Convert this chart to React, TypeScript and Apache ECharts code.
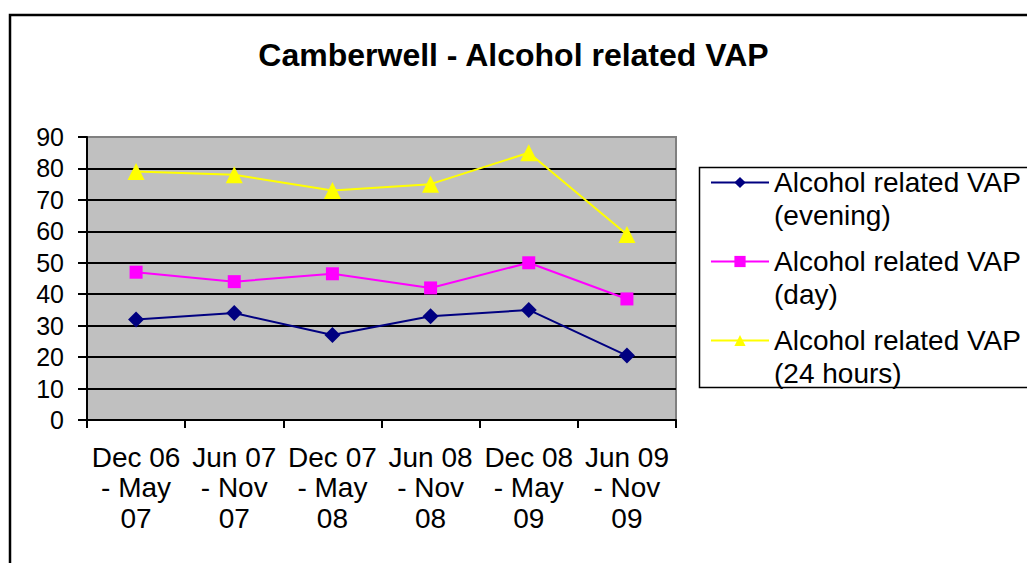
import React, { useEffect, useRef } from "react";
import * as echarts from "echarts";

const categories = [
  "Dec 06\n- May\n07",
  "Jun 07\n- Nov\n07",
  "Dec 07\n- May\n08",
  "Jun 08\n- Nov\n08",
  "Dec 08\n- May\n09",
  "Jun 09\n- Nov\n09",
];
const evening = [32, 34, 27, 33, 35, 20.5];
const day = [47, 44, 46.5, 42, 50, 38.5];
const hours24 = [79, 78, 73, 75, 85, 59];
const seriesNames = [
  "Alcohol related VAP (evening)",
  "Alcohol related VAP (day)",
  "Alcohol related VAP (24 hours)",
];
const titleText = "Camberwell - Alcohol related VAP";

const FONT = "'Liberation Sans', Arial, sans-serif";

export default function App() {
  const ref = useRef<HTMLDivElement>(null);
  useEffect(() => {
    if (!ref.current) return;
    const chart = echarts.init(ref.current, undefined, { renderer: "svg" });
    chart.setOption({
      animation: false,
      backgroundColor: "#ffffff",
      textStyle: { fontFamily: FONT },
      title: {
        text: titleText,
        left: "center",
        top: 39,
        padding: 0,
        textStyle: { fontSize: 32, fontWeight: "bold", color: "#000", fontFamily: FONT },
      },
      graphic: [
        {
          type: "rect",
          z: 0,
          shape: { x: 10, y: 15, width: 1200, height: 800 },
          style: { fill: "none", stroke: "#000", lineWidth: 2.5 },
        },
        {
          type: "rect",
          z: 1,
          shape: { x: 699.5, y: 167.5, width: 500, height: 220 },
          style: { fill: "#fff", stroke: "#000", lineWidth: 1.5 },
        },
      ],
      legend: {
        orient: "vertical",
        left: 710,
        top: 133,
        padding: 0,
        itemWidth: 58,
        itemHeight: 14,
        itemGap: -20,
        z: 5,
        formatter: (name: string) => {
          const i = name.indexOf(" (");
          return "{s| }\n{a|" + name.slice(0, i) + "}\n{a|" + name.slice(i + 1) + "}";
        },
        textStyle: {
          fontSize: 28,
          lineHeight: 33,
          color: "#000",
          fontFamily: FONT,
          rich: {
            s: { fontSize: 28, lineHeight: 33, fontFamily: FONT },
            a: { fontSize: 28, lineHeight: 33, color: "#000", fontFamily: FONT },
          },
        },
        data: seriesNames,
      },
      grid: {
        left: 87,
        top: 137,
        width: 589,
        height: 283,
        show: true,
        backgroundColor: "#C0C0C0",
        borderColor: "#808080",
        borderWidth: 2,
      },
      xAxis: {
        type: "category",
        data: categories,
        boundaryGap: true,
        axisLine: { show: true, lineStyle: { color: "#000", width: 2 } },
        axisTick: { show: true, inside: false, length: 8, lineStyle: { color: "#000", width: 2 } },
        axisLabel: {
          interval: 0,
          margin: 22,
          fontSize: 28,
          lineHeight: 30.5,
          color: "#000",
          fontFamily: FONT,
        },
        splitLine: { show: false },
      },
      yAxis: {
        type: "value",
        min: 0,
        max: 90,
        interval: 10,
        axisLine: { show: true, lineStyle: { color: "#000", width: 2 } },
        axisTick: { show: true, inside: false, length: 9, lineStyle: { color: "#000", width: 2 } },
        axisLabel: { margin: 23, fontSize: 25, color: "#000", fontFamily: FONT },
        splitLine: {
          show: true,
          showMinLine: false,
          showMaxLine: false,
          lineStyle: { color: "#000", width: 2 },
        },
      },
      series: [
        {
          name: seriesNames[0],
          type: "line",
          data: evening,
          symbol: "diamond",
          symbolSize: 16,
          color: "#000080",
          lineStyle: { color: "#000080", width: 2 },
          itemStyle: { color: "#000080" },
        },
        {
          name: seriesNames[1],
          type: "line",
          data: day,
          symbol: "rect",
          symbolSize: 13,
          color: "#FF00FF",
          lineStyle: { color: "#FF00FF", width: 2 },
          itemStyle: { color: "#FF00FF" },
        },
        {
          name: seriesNames[2],
          type: "line",
          data: hours24,
          symbol: "triangle",
          symbolSize: 17,
          color: "#FFFF00",
          lineStyle: { color: "#FFFF00", width: 2 },
          itemStyle: { color: "#FFFF00" },
        },
      ],
    });
    return () => chart.dispose();
  }, []);
  return (
    <div
      ref={ref}
      style={{ position: "absolute", left: 0, top: 0, width: 1027, height: 563 }}
    />
  );
}
